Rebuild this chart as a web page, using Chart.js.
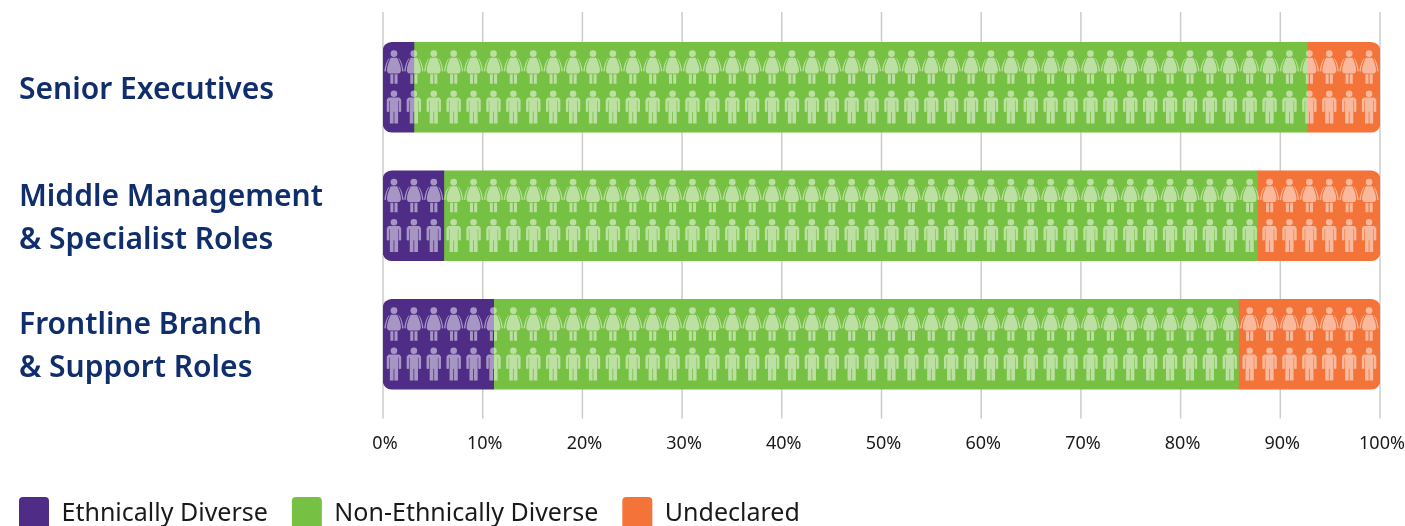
<!DOCTYPE html>
<html>
<head>
<meta charset="utf-8">
<script src="https://cdn.jsdelivr.net/npm/chart.js@4"></script>
<style>
  html, body { margin: 0; padding: 0; background: #fff; overflow: hidden; }
  #wrap { width: 1405px; height: 526px; }
</style>
</head>
<body>
<div id="wrap"><canvas id="chart"></canvas></div>
<script>
const categories = [
    'Senior Executives',
    ['Middle Management', '& Specialist Roles'],
    ['Frontline Branch', '& Support Roles']
];
const ethnicallyDiverse = [3.1, 6.1, 11.1];
const nonEthnicallyDiverse = [89.6, 81.6, 74.7];
const undeclared = [7.3, 12.3, 14.2];
const tickValues = [0, 10, 20, 30, 40, 50, 60, 70, 80, 90, 100];

const PURPLE = '#4f2d87';
const GREEN = '#76c043';
const ORANGE = '#f47338';
const NAVY = '#0f2e6b';
const TEXT_FONT = '"Noto Sans", sans-serif';
const ICONS_PER_ROW = 50;

// figura de mujer, centrada en x=0, la y es relativa al centro de la barra
function womanPath() {
    const p = new Path2D();
    p.arc(0, -33.7, 3.4, 0, Math.PI * 2);
    // vestido
    p.moveTo(-3.2, -29.6);
    p.lineTo(3.2, -29.6);
    p.bezierCurveTo(5, -26, 7, -21, 7, -17);
    p.quadraticCurveTo(6.8, -14, 4.5, -13.8);
    p.lineTo(-4.5, -13.8);
    p.quadraticCurveTo(-6.8, -14, -7, -17);
    p.bezierCurveTo(-7, -21, -5, -26, -3.2, -29.6);
    p.closePath();
    // piernas
    p.rect(-3.6, -13, 3, 9.5);
    p.rect(0.6, -13, 3, 9.5);
    // brazos
    p.moveTo(4.4, -29.6);
    p.bezierCurveTo(7, -27.5, 9, -21.5, 9.6, -16);
    p.lineTo(8.2, -15.7);
    p.bezierCurveTo(8, -20, 6.8, -25, 4.9, -28);
    p.closePath();
    p.moveTo(-4.4, -29.6);
    p.bezierCurveTo(-7, -27.5, -9, -21.5, -9.6, -16);
    p.lineTo(-8.2, -15.7);
    p.bezierCurveTo(-8, -20, -6.8, -25, -4.9, -28);
    p.closePath();
    return p;
}

// figura de hombre
function manPath() {
    const p = new Path2D();
    p.arc(0, 6.5, 3.3, 0, Math.PI * 2);
    p.roundRect(-6.5, 10.2, 13, 3.4, 2.2);
    p.rect(-4.1, 11, 8.2, 13.5);
    p.rect(-4.1, 24, 3.7, 12.2);
    p.rect(0.4, 24, 3.7, 12.2);
    p.roundRect(-7.2, 11.6, 2.5, 13.2, 1.1);
    p.roundRect(4.7, 11.6, 2.5, 13.2, 1.1);
    return p;
}

// líneas verticales; sobresalen de la zona del gráfico por arriba y por abajo
const gridPlugin = {
    id: 'gridLines',
    beforeDatasetsDraw(chart) {
        const { ctx, scales: { x } } = chart;
        ctx.save();
        ctx.strokeStyle = '#cccccc';
        ctx.lineWidth = 1.5;
        for (const value of tickValues) {
            const px = x.getPixelForValue(value);
            ctx.beginPath();
            ctx.moveTo(px, chart.chartArea.top - 11);
            ctx.lineTo(px, chart.chartArea.bottom + 10);
            ctx.stroke();
        }
        ctx.restore();
    }
};

// dos filas de personas sobre cada barra
const peoplePlugin = {
    id: 'people',
    afterDatasetsDraw(chart) {
        const { ctx, scales: { x, y } } = chart;
        const woman = womanPath();
        const man = manPath();
        ctx.save();
        ctx.fillStyle = 'rgba(255, 255, 255, 0.5)';
        categories.forEach((_, index) => {
            const cy = y.getPixelForValue(index);
            for (let i = 0; i < ICONS_PER_ROW; i++) {
                const cx = x.getPixelForValue(1.1 + i * 1.996);
                ctx.save();
                ctx.translate(cx, cy);
                ctx.fill(woman);
                ctx.fill(man);
                ctx.restore();
            }
        });
        ctx.restore();
    }
};

// coloca la leyenda abajo a la izquierda, sin el padding de sus etiquetas
const legendShiftPlugin = {
    id: 'legendShift',
    beforeDraw(chart) {
        const padding = chart.options.plugins.legend.labels.padding;
        chart.legend.left = 19 - padding;
        chart.legend.top = 497 - padding;
    }
};

function makeDataset(label, data, color, borderRadius) {
    return {
        label,
        data,
        backgroundColor: color,
        borderColor: color,
        borderWidth: 0,
        borderSkipped: false,
        borderRadius,
        barThickness: 90
    };
}

new Chart(document.getElementById('chart'), {
    type: 'bar',
    data: {
        labels: categories,
        datasets: [
            makeDataset('Ethnically Diverse', ethnicallyDiverse, PURPLE, { topLeft: 9, bottomLeft: 9 }),
            makeDataset('Non-Ethnically Diverse', nonEthnicallyDiverse, GREEN, 0),
            makeDataset('Undeclared', undeclared, ORANGE, { topRight: 9, bottomRight: 9 })
        ]
    },
    options: {
        indexAxis: 'y',
        responsive: true,
        maintainAspectRatio: false,
        animation: false,
        layout: { padding: { left: 19, right: 25, top: 23, bottom: 0 } },
        plugins: {
            tooltip: { enabled: false },
            legend: {
                position: 'bottom',
                align: 'start',
                labels: {
                    boxWidth: 30,
                    boxHeight: 33,
                    padding: 24,
                    color: '#1a1a1a',
                    useBorderRadius: true,
                    borderRadius: 4,
                    font: { family: TEXT_FONT, size: 25 }
                }
            }
        },
        scales: {
            x: {
                stacked: true,
                min: 0,
                max: 100,
                grid: { display: false },
                border: { display: false },
                afterBuildTicks(scale) {
                    scale.ticks = tickValues.map((value) => ({ value }));
                },
                afterFit(scale) {
                    scale.height = 50.5;
                    scale.paddingLeft = 0;
                    scale.paddingRight = 0;
                },
                ticks: {
                    padding: 17,
                    labelOffset: 2,
                    maxRotation: 0,
                    color: '#1a1a1a',
                    font: { family: TEXT_FONT, size: 18 },
                    callback: (value) => value + '%'
                }
            },
            y: {
                stacked: true,
                grid: { display: false },
                border: { display: false },
                afterFit(scale) {
                    scale.width = 364;
                    scale.paddingTop = 0;
                    scale.paddingBottom = 0;
                },
                ticks: {
                    crossAlign: 'far',
                    labelOffset: 3,
                    color: NAVY,
                    font: { family: TEXT_FONT, size: 30, weight: '600', lineHeight: 1.43 }
                }
            }
        }
    },
    plugins: [gridPlugin, peoplePlugin, legendShiftPlugin]
});
</script>
</body>
</html>
